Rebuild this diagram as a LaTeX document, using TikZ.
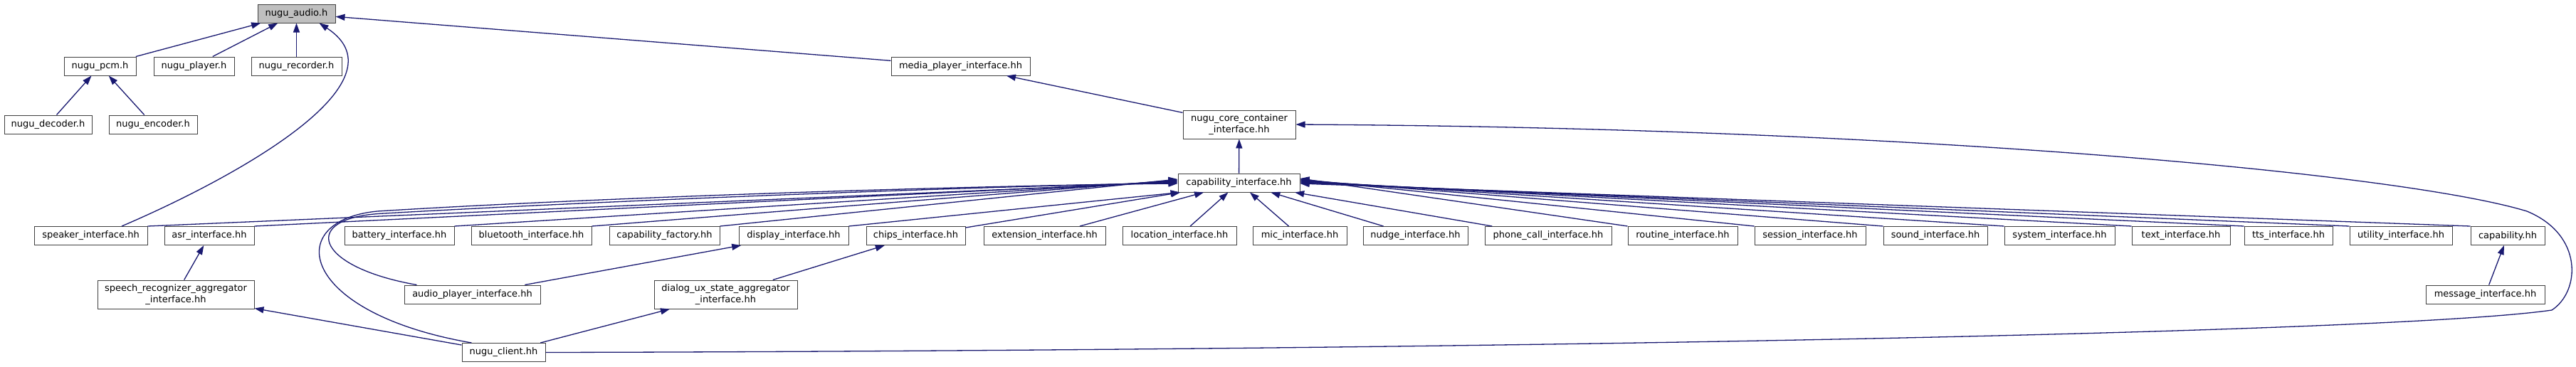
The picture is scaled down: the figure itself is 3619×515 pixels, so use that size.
\documentclass[tikz,border=0pt]{standalone}
\usepackage{fontspec}
\setmainfont{DejaVu Sans}
\usetikzlibrary{arrows.meta}
\definecolor{edgeblue}{RGB}{25,25,112}
\definecolor{rootgray}{RGB}{191,191,191}

\begin{document}
\begin{tikzpicture}[x=1pt,y=-1pt,
hfile/.style = {draw=black!75,line width=1pt,fill=white,inner sep=0pt,minimum height=26pt,align=center,font=\fontsize{13}{15.5}\selectfont},
hroot/.style = {hfile,fill=rootgray},
hpair/.style = {hfile,minimum height=40pt},
incl/.style = {>={Triangle[length=13pt,width=9pt]},->,line width=1.3pt,edgeblue}
]
  \useasboundingbox (0,0) rectangle (3619,515);

  % top of the include tree
  \node[hroot,minimum width=109pt] (audio) at (416.5,19) {nugu\_audio.h};
  \node[hfile,minimum width=101pt] (pcm) at (140.5,93) {nugu\_pcm.h};
  \node[hfile,minimum width=113pt] (player) at (272.5,93) {nugu\_player.h};
  \node[hfile,minimum width=127pt] (recorder) at (416.5,93) {nugu\_recorder.h};
  \node[hfile,minimum width=195pt] (media) at (1349.5,93) {media\_player\_interface.hh};
  \node[hfile,minimum width=123pt] (decoder) at (67.5,175) {nugu\_decoder.h};
  \node[hfile,minimum width=124pt] (encoder) at (215,175) {nugu\_encoder.h};
  \node[hpair,minimum width=158pt] (core) at (1741,175) {nugu\_core\_container\\\_interface.hh};
  \node[hfile,minimum width=171pt] (capint) at (1740.5,257) {capability\_interface.hh};

  % capability interfaces
  \node[hfile,minimum width=159pt] (speaker) at (127.5,331.5) {speaker\_interface.hh};
  \node[hfile,minimum width=126pt] (asr) at (294,331.5) {asr\_interface.hh};
  \node[hfile,minimum width=154pt] (battery) at (561,331.5) {battery\_interface.hh};
  \node[hfile,minimum width=169pt] (bluetooth) at (746.5,331.5) {bluetooth\_interface.hh};
  \node[hfile,minimum width=155pt] (capfactory) at (933.5,331.5) {capability\_factory.hh};
  \node[hfile,minimum width=154pt] (display) at (1115,331.5) {display\_interface.hh};
  \node[hfile,minimum width=139pt] (chips) at (1286.5,331.5) {chips\_interface.hh};
  \node[hfile,minimum width=171pt] (extension) at (1467.5,331.5) {extension\_interface.hh};
  \node[hfile,minimum width=160pt] (location) at (1657,331.5) {location\_interface.hh};
  \node[hfile,minimum width=132pt] (mic) at (1826,331.5) {mic\_interface.hh};
  \node[hfile,minimum width=147pt] (nudge) at (1988.5,331.5) {nudge\_interface.hh};
  \node[hfile,minimum width=178pt] (phonecall) at (2175,331.5) {phone\_call\_interface.hh};
  \node[hfile,minimum width=154pt] (routine) at (2364,331.5) {routine\_interface.hh};
  \node[hfile,minimum width=156pt] (session) at (2543,331.5) {session\_interface.hh};
  \node[hfile,minimum width=146pt] (sound) at (2719,331.5) {sound\_interface.hh};
  \node[hfile,minimum width=155pt] (system) at (2893.5,331.5) {system\_interface.hh};
  \node[hfile,minimum width=138pt] (text) at (3064,331.5) {text\_interface.hh};
  \node[hfile,minimum width=124pt] (tts) at (3215,331.5) {tts\_interface.hh};
  \node[hfile,minimum width=144pt] (utility) at (3373,331.5) {utility\_interface.hh};
  \node[hfile,minimum width=104pt] (capability) at (3523,331.5) {capability.hh};

  % lower levels
  \node[hpair,minimum width=220pt] (speechrec) at (247,414) {speech\_recognizer\_aggregator\\\_interface.hh};
  \node[hfile,minimum width=191pt] (audioplayer) at (663.5,414) {audio\_player\_interface.hh};
  \node[hpair,minimum width=201pt] (dialog) at (1019.5,414) {dialog\_ux\_state\_aggregator\\\_interface.hh};
  \node[hfile,minimum width=167pt] (message) at (3491.5,414) {message\_interface.hh};
  \node[hfile,minimum width=117pt] (nuguclient) at (707.5,495.5) {nugu\_client.hh};

  \draw[incl] (pcm) -- (audio);
  \draw[incl] (player) -- (audio);
  \draw[incl] (recorder) -- (audio);
  \draw[incl] (media) -- (audio);
  \draw[incl] (decoder) -- (pcm);
  \draw[incl] (encoder) -- (pcm);
  \draw[incl] (core) -- (media);
  \draw[incl] (capint) -- (core);
  \draw[incl] ([xshift=43.5pt]speaker.north) .. controls (330,250) and (575,115) .. ([xshift=-23pt]audio.south east);

  \draw[incl] (speaker.north east) -- ([yshift=1pt]capint.west);
  \draw[incl] (asr.north east) -- ([yshift=2pt]capint.west);
  \draw[incl] (battery.north east) -- ([yshift=3pt]capint.west);
  \draw[incl] (bluetooth.north east) -- ([yshift=4pt]capint.west);
  \draw[incl] (capfactory.north east) -- ([yshift=5pt]capint.west);
  \draw[incl] (display.north east) -- ([xshift=3pt]capint.south west);
  \draw[incl] (chips) -- (capint);
  \draw[incl] (extension) -- (capint);
  \draw[incl] (location) -- (capint);
  \draw[incl] (mic) -- (capint);
  \draw[incl] (nudge) -- (capint);
  \draw[incl] (phonecall) -- (capint);
  \draw[incl] (routine.north west) -- ([yshift=6pt]capint.east);
  \draw[incl] (session.north west) -- ([yshift=5pt]capint.east);
  \draw[incl] (sound.north west) -- ([yshift=4pt]capint.east);
  \draw[incl] (system.north west) -- ([yshift=3pt]capint.east);
  \draw[incl] (text.north west) -- ([yshift=2pt]capint.east);
  \draw[incl] (tts.north west) -- ([yshift=1pt]capint.east);
  \draw[incl] (utility.north west) -- (capint.east);
  \draw[incl] (capability.north west) -- ([yshift=-1pt]capint.east);
  \draw[incl] ([xshift=18pt]audioplayer.north west) .. controls (440,375) and (420,305) .. (540,300)
    .. controls (800,285) and (1300,264) .. (capint.west);
  \draw[incl] ([xshift=14pt]nuguclient.north west) .. controls (420,440) and (395,310) .. (530,297)
    .. controls (800,280) and (1300,262) .. ([yshift=-1pt]capint.west);

  \draw[incl] (speechrec) -- (asr);
  \draw[incl] (audioplayer) -- (display);
  \draw[incl] (dialog) -- (chips);
  \draw[incl] (message) -- (capability);
  \draw[incl] (nuguclient) -- (speechrec);
  \draw[incl] (nuguclient) -- (dialog);
  \draw[incl] (nuguclient.east) .. controls (2000,493) and (3350,470) .. (3585,436)
    .. controls (3625,410) and (3630,330) .. (3550,297)
    .. controls (3380,245) and (2700,180) .. (core.east);
\end{tikzpicture}
\end{document}
